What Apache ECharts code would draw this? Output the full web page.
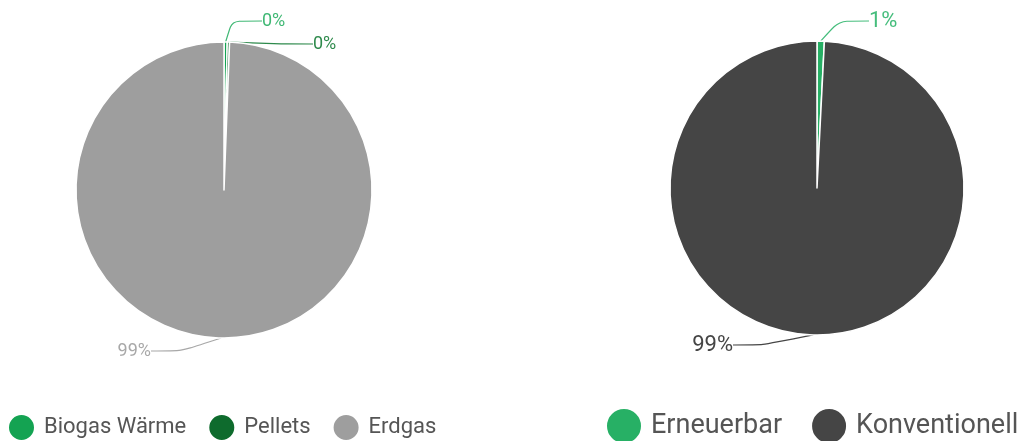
<!DOCTYPE html>
<html>
<head>
<meta charset="utf-8">
<script src="https://cdn.jsdelivr.net/npm/echarts@6/dist/echarts.min.js"></script>
<style>
  html, body { margin: 0; padding: 0; background: #fff; }
  #chart { width: 1027px; height: 441px; }
</style>
</head>
<body>
<div id="chart"></div>
<script>
// Heat sources (left pie)
const waermeNames = ['Biogas Wärme', 'Pellets', 'Erdgas'];
const waermeValues = [0.35, 0.25, 99.4];
const waermeColors = ['#14a352', '#0e6b2d', '#9e9e9e'];
const waermeLabelColors = ['#3fb874', '#2e8a4c', '#a8a8a8'];

// Renewable vs. conventional share (right pie)
const anteilNames = ['Erneuerbar', 'Konventionell'];
const anteilValues = [0.8, 99.2];
const anteilColors = ['#27b065', '#454545'];
const anteilLabelColors = ['#45bd7c', '#454545'];

// Label anchor points: [x, y, align]
const waermeLabelPos = [[262, 21, 'left'], [313, 44, 'left'], [151, 351, 'right']];
const anteilLabelPos = [[869, 21, 'left'], [733, 345, 'right']];

const fontFamily = 'Roboto, "Noto Sans", sans-serif';

function toData(names, values, colors, labelColors) {
  return names.map((n, i) => ({
    name: n,
    value: values[i],
    itemStyle: { color: colors[i] },
    label: { color: labelColors[i] },
    labelLine: { lineStyle: { color: labelColors[i] } }
  }));
}

function layoutFrom(pos) {
  return params => {
    const p = pos[params.dataIndex];
    return { x: p[0], y: p[1], align: p[2], verticalAlign: 'middle' };
  };
}

const pctFormatter = p => Math.round(p.percent) + '%';

const chart = echarts.init(document.getElementById('chart'), null, { renderer: 'canvas' });
chart.setOption({
  animation: false,
  backgroundColor: '#fff',
  legend: [
    {
      data: waermeNames,
      left: 7,
      top: 413,
      padding: 0,
      icon: 'circle',
      itemWidth: 35,
      itemHeight: 27,
      itemGap: 21,
      textStyle: { fontFamily, fontSize: 22, color: '#555' }
    },
    {
      data: anteilNames,
      left: 605,
      top: 407,
      padding: 0,
      icon: 'circle',
      itemWidth: 44,
      itemHeight: 36,
      itemGap: 28,
      textStyle: { fontFamily, fontSize: 27, color: '#555' }
    }
  ],
  series: [
    {
      type: 'pie',
      center: [224, 190],
      radius: [0, 148],
      startAngle: 90,
      clockwise: true,
      itemStyle: { borderColor: '#fff', borderWidth: 1.5 },
      label: { show: true, position: 'outside', formatter: pctFormatter, fontFamily, fontSize: 18 },
      labelLine: { show: true, length: 12, length2: 30, smooth: 0.2, lineStyle: { width: 1.2 } },
      labelLayout: layoutFrom(waermeLabelPos),
      data: toData(waermeNames, waermeValues, waermeColors, waermeLabelColors)
    },
    {
      type: 'pie',
      center: [817, 188],
      radius: [0, 147],
      startAngle: 90,
      clockwise: true,
      itemStyle: { borderColor: '#fff', borderWidth: 1.5 },
      label: { show: true, position: 'outside', formatter: pctFormatter, fontFamily, fontSize: 22 },
      labelLine: { show: true, length: 12, length2: 30, smooth: 0.2, lineStyle: { width: 1.2 } },
      labelLayout: layoutFrom(anteilLabelPos),
      data: toData(anteilNames, anteilValues, anteilColors, anteilLabelColors)
    }
  ]
});
</script>
</body>
</html>
